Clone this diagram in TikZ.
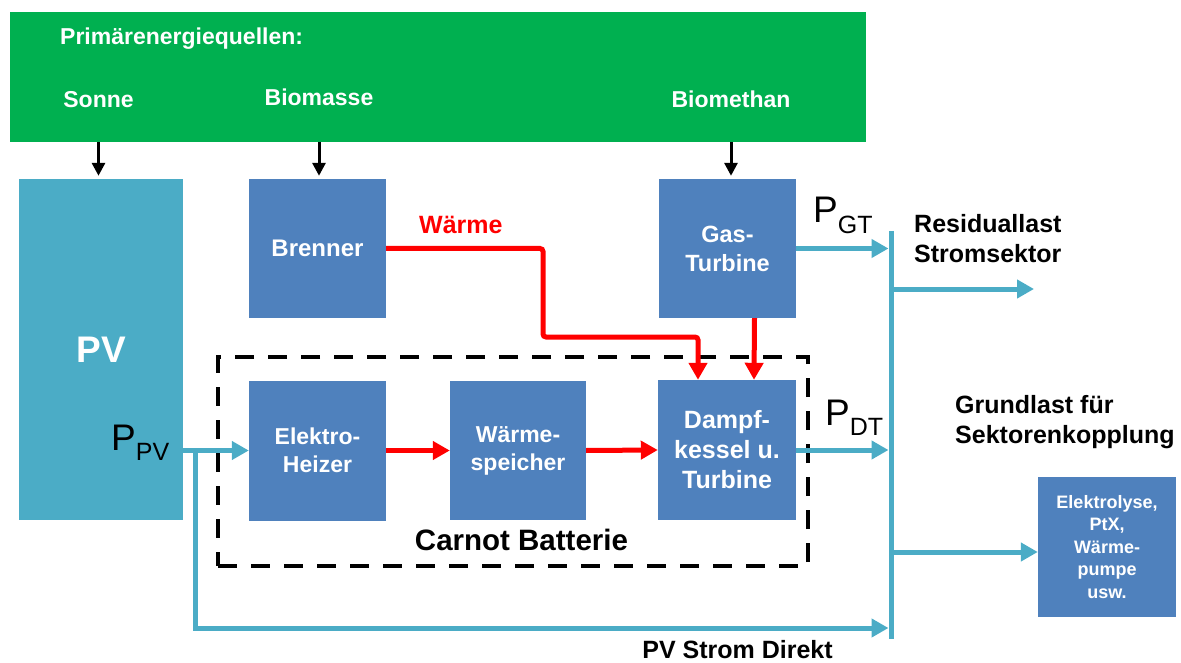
\documentclass[tikz,border=0pt]{standalone}
\usepackage{fontspec}
\setmainfont{Liberation Sans}
\usetikzlibrary{arrows.meta, positioning, calc}
\definecolor{srcGreen}{RGB}{0,176,80}
\definecolor{boxBlue}{RGB}{79,129,189}
\definecolor{pvCyan}{RGB}{75,172,198}
\definecolor{heatRed}{RGB}{255,0,0}
\newcommand{\setfs}[2]{\fontsize{#1}{#2}\selectfont}
\newcommand{\psub}[1]{{\setfs{37}{37}P}\raisebox{-10pt}{\setfs{25}{25}#1}}

\begin{document}
\begin{tikzpicture}[x=1pt, y=-1pt, every node/.style={inner sep=0pt},
	blk/.style={draw=black, line width=3pt, shorten >=3pt, -{Triangle[length=13pt,width=13pt]}},
	heat/.style={draw=heatRed, line width=5pt, rounded corners=3pt, -{Triangle[length=17pt,width=18pt]}},
	elec/.style={draw=pvCyan, line width=5pt, -{Triangle[length=17pt,width=18pt]}},
	box/.style={fill=boxBlue, text=white, align=center, minimum width=137pt, minimum height=139pt},
	src/.style={text=white, font=\bfseries\setfs{23}{26}},
	lbl/.style={text=black, font=\bfseries\setfs{25}{30}, align=left}]
	\useasboundingbox (0,0) rectangle (1181,663);
	% Primaerenergiequellen
	\node[fill=srcGreen, minimum width=856pt, minimum height=130pt] (prim) at (438,77) {};
	\node[src, anchor=base west] (primT) at (60,45) {Primärenergiequellen:};
	\node[src, anchor=base] (sonne) at (98.5,108) {Sonne};
	\node[src, anchor=base] (biomasse) at (319,106) {Biomasse};
	\node[src, anchor=base] (biomethan) at (731,108) {Biomethan};
	% Erzeuger
	\node[fill=pvCyan, text=white, font=\bfseries\setfs{37}{37}, minimum width=164pt, minimum height=341pt] (pv) at (101,349.5) {PV};
	\node[anchor=base west] (ppv) at (111,450) {\psub{PV}};
	\node[box, font=\bfseries\setfs{24}{30}] (brenner) at (317.5,248.5) {Brenner};
	\node[box, font=\bfseries\setfs{23.5}{29}] (gas) at (727.5,248.5) {Gas-\\Turbine};
	\node[anchor=base west] (pgt) at (813,223) {\psub{GT}};
	% Carnot Batterie
	\node[draw, line width=4.5pt, dash pattern=on 19pt off 14pt, minimum width=590pt, minimum height=209pt] (carnot) at (513,461.5) {};
	\node[box, font=\bfseries\setfs{23}{28}, minimum height=140pt] (heizer) at (317.5,450.5) {Elektro-\\Heizer};
	\node[box, font=\bfseries\setfs{23}{28}, minimum width=136pt] (speicher) at (518,450.5) {Wärme-\\speicher};
	\node[box, font=\bfseries\setfs{25}{30}, minimum width=138pt, minimum height=140pt] (dampf) at (727,450) {Dampf-\\kessel u.\\Turbine};
	\node[lbl, font=\bfseries\setfs{29.5}{30}, anchor=base] (carnotT) at (521.5,550) {Carnot Batterie};
	\node[anchor=base west] (pdt) at (825,425) {\psub{DT}};
	\node[text=heatRed, font=\bfseries\setfs{25}{25}, anchor=base west] (waerme) at (419,234) {Wärme};
	% Verbraucher
	\node[lbl, anchor=west] (resid) at (914,239) {Residuallast\\Stromsektor};
	\node[lbl, anchor=west] (grund) at (955,422) {Grundlast für\\Sektorenkopplung};
	\node[box, font=\bfseries\setfs{18}{22.5}, minimum width=138pt, minimum height=140pt] (elyse) at (1107,547) {Elektrolyse,\\PtX,\\Wärme-\\pumpe\\usw.};
	\node[lbl, anchor=base] (direktT) at (737.5,658) {PV Strom Direkt};
	% Sammelschiene
	\coordinate (bustop) at (891,231);
	\coordinate (busbot) at (891,639);
	\coordinate (residEnd) at (1034,289);
	\coordinate (direkt) at (891,628);
	\coordinate (split) at (195,450.5);
	\coordinate (bend) at (543,337);
	\draw[pvCyan, line width=5pt] (bustop) -- (busbot);
	% Primaerenergie
	\draw[blk] (prim.south -| sonne) -- (pv.north -| sonne);
	\draw[blk] (prim.south -| biomasse) -- (brenner.north -| biomasse);
	\draw[blk] (prim.south -| biomethan) -- (gas.north -| biomethan);
	% Waerme
	\draw[heat] (heizer.east) -- (speicher.west);
	\draw[heat] (speicher.east) -- (dampf.west);
	\draw[heat] (brenner.east) -| (bend) -| ([xshift=-29pt]dampf.north);
	\draw[heat] ([xshift=27pt]gas.south) -- ([xshift=27pt]dampf.north);
	% Strom
	\draw[elec] (pv.east |- heizer.west) -- (heizer.west);
	\draw[elec, shorten >=2.5pt] (split) |- (direkt);
	\draw[elec, shorten >=2.5pt] (gas.east) -- (bustop |- gas.east);
	\draw[elec, shorten >=2.5pt] (dampf.east) -- (bustop |- dampf.east);
	\draw[elec] (bustop |- residEnd) -- (residEnd);
	\draw[elec] (bustop |- elyse.west) ++(0,5) -- ([yshift=-5pt]elyse.west);
\end{tikzpicture}
\end{document}
